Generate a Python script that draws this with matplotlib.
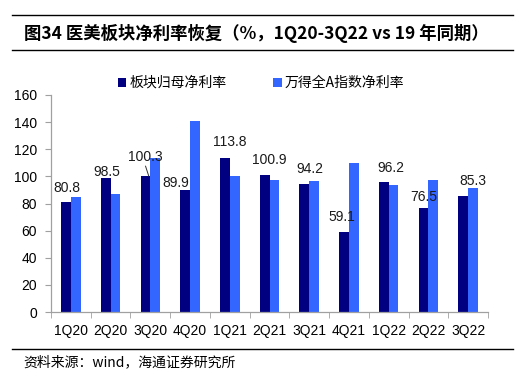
import matplotlib
matplotlib.use('Agg')
import matplotlib.pyplot as plt
import numpy as np
from matplotlib.lines import Line2D

plt.rcParams['font.family'] = ['Liberation Sans', 'Noto Sans CJK SC', 'DejaVu Sans']

quarters = ['1Q20', '2Q20', '3Q20', '4Q20', '1Q21', '2Q21', '3Q21', '4Q21', '1Q22', '2Q22', '3Q22']
sector_margin = [80.8, 98.5, 100.3, 89.9, 113.8, 100.9, 94.2, 59.1, 96.2, 76.5, 85.3]
wind_a_margin = [85.0, 87.0, 113.5, 141.1, 100.0, 97.1, 96.3, 109.6, 93.4, 97.1, 91.4]
series_names = ['板块归母净利率', '万得全A指数净利率']

# label placement tweaks (category units / value units), like the hand-moved excel labels
lab_dx = [-0.11, -0.10, -0.12, -0.35, -0.01, -0.01, 0.01, -0.19, 0.06, -0.11, 0.11]
lab_dy = [10.4, 5.0, 13.8, 4.9, 11.4, 11.2, 11.2, 10.7, 10.3, 8.1, 11.1]

fig = plt.figure(figsize=(5.32, 3.81), dpi=100)
ax = fig.add_axes([51/532, 1 - 312/381, 437/532, 217/381])

x = np.arange(len(quarters))
w = 0.245
ax.bar(x - w/2, sector_margin, w, color='#000080', label=series_names[0])
ax.bar(x + w/2, wind_a_margin, w, color='#3366FF', label=series_names[1])

for i, v in enumerate(sector_margin):
    ax.text(i + lab_dx[i], v + lab_dy[i], f'{v:.1f}', ha='center', va='center',
            fontsize=10, color='#1a1a1a')
# leader line for the 3Q20 label
ax.plot([2 - 0.12, 2 - 0.04], [107.5, sector_margin[2]], color='#333333', lw=0.7)

ax.set_xlim(-0.5, len(quarters) - 0.5)
ax.set_ylim(0, 160)
ax.set_yticks(np.arange(0, 161, 20))
ax.set_xticks(x)
ax.set_xticklabels(quarters)
ax.set_xticks(np.arange(-0.5, len(quarters), 1), minor=True)
ax.tick_params(axis='x', which='major', length=0, pad=9, labelsize=10)
ax.tick_params(axis='x', which='minor', length=4, color='#a0a0a0', direction='out')
ax.tick_params(axis='y', length=4, color='#a0a0a0', pad=6, labelsize=10)
for s in ['top', 'right']:
    ax.spines[s].set_visible(False)
for s in ['left', 'bottom']:
    ax.spines[s].set_color('#a0a0a0')
    ax.spines[s].set_linewidth(0.9)

leg = fig.legend(loc='center left', bbox_to_anchor=(118/532, 1 - 83/381), ncol=2,
                 frameon=False, handlelength=0.6, handleheight=0.6, handletextpad=0.2,
                 columnspacing=3.4, borderaxespad=0, borderpad=0,
                 prop={'family': ['Noto Sans CJK SC'], 'size': 10})

# header and footer
fig.add_artist(Line2D([12/532, 513/532], [1 - 15/381] * 2, color='black', lw=1))
fig.add_artist(Line2D([12/532, 513/532], [1 - 50/381] * 2, color='black', lw=1))
fig.add_artist(Line2D([12/532, 513/532], [1 - 349/381] * 2, color='black', lw=1))
fig.text(24/532, 1 - 33/381, '图34 医美板块净利率恢复（%，1Q20-3Q22 vs 19 年同期）',
         fontsize=12.5, fontweight='bold', va='center', ha='left',
         family=['Noto Sans CJK SC', 'DejaVu Sans'])
fig.text(23/532, 1 - 362/381, '资料来源：wind，海通证券研究所', fontsize=10,
         va='center', ha='left', family=['Noto Sans CJK SC', 'DejaVu Sans'])

fig.savefig('out.png', dpi=100)
